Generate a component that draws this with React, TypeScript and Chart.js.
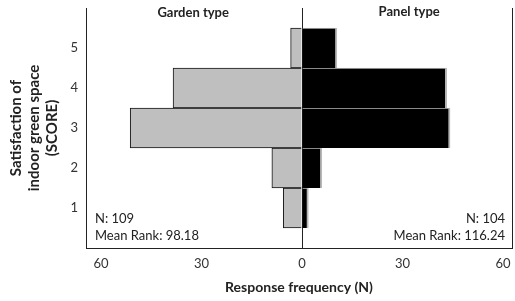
import React, { useEffect, useRef } from 'react';
import { Chart, registerables } from 'chart.js';

Chart.register(...registerables);

const scores = [1, 2, 3, 4, 5];
const gardenCounts = [5.6, 9, 51.3, 38.5, 3.4];
const panelCounts = [1.9, 5.9, 44.2, 43.2, 10.4];
const xTickValues = [-60, -30, 0, 30, 60];
const yTickLabels = ['1', '2', '3', '4', '5'];
const seriesNames = ['Garden type', 'Panel type'];
const gardenStats = ['N: 109', 'Mean Rank: 98.18'];
const panelStats = ['N: 104', 'Mean Rank: 116.24'];
const xTitle = 'Response frequency (N)';
const yTitle = ['Satisfaction of', 'indoor green space', '(SCORE)'];

const FONT = 'Lato';
const TEXT = '#222';

const annotate = {
  id: 'annotate',
  afterDatasetsDraw(chart: any) {
    const { ctx, chartArea, scales } = chart;
    const x = scales.x;
    ctx.save();
    ctx.fillStyle = TEXT;
    ctx.textBaseline = 'middle';
    ctx.font = `bold 13px ${FONT}`;
    ctx.textAlign = 'center';
    ctx.fillText(seriesNames[0], x.getPixelForValue(-32.5), chartArea.top + 5);
    ctx.fillText(seriesNames[1], x.getPixelForValue(32), chartArea.top + 4);
    ctx.font = `13px ${FONT}`;
    ctx.textAlign = 'left';
    ctx.fillText(gardenStats[0], chartArea.left + 9, chartArea.bottom - 29);
    ctx.fillText(gardenStats[1], chartArea.left + 9, chartArea.bottom - 12);
    ctx.textAlign = 'right';
    ctx.fillText(panelStats[0], chartArea.right - 7, chartArea.bottom - 29);
    ctx.fillText(panelStats[1], chartArea.right - 7, chartArea.bottom - 12);
    ctx.restore();
  },
};

export default function App() {
  const ref = useRef<HTMLCanvasElement | null>(null);

  useEffect(() => {
    document.body.style.margin = '0';
    const canvas = ref.current;
    if (!canvas) return;
    const chart = new Chart(canvas, {
      type: 'bar',
      data: {
        datasets: [
          {
            label: seriesNames[0],
            data: scores.map((s, i) => ({ x: -gardenCounts[i], y: s })),
            backgroundColor: '#bfbfbf',
            borderColor: '#151515',
            borderWidth: 1,
          },
          {
            label: seriesNames[1],
            data: scores.map((s, i) => ({ x: panelCounts[i], y: s })),
            backgroundColor: '#000',
            borderColor: '#b8b8b8',
            borderWidth: { top: 1, right: 2, bottom: 0, left: 0 },
            borderSkipped: false,
          },
        ],
      } as any,
      options: {
        indexAxis: 'y',
        animation: false,
        responsive: false,
        layout: { padding: { top: 8, right: 0, bottom: 0, left: 0 } },
        datasets: { bar: { barPercentage: 1, categoryPercentage: 1 } },
        plugins: { legend: { display: false }, tooltip: { enabled: false } },
        scales: {
          x: {
            type: 'linear',
            min: -64.5,
            max: 62.7,
            stacked: true,
            afterBuildTicks: (s: any) => {
              s.ticks = xTickValues.map((v) => ({ value: v }));
            },
            ticks: {
              callback: (v: any) => String(Math.abs(Number(v))),
              font: { family: FONT, size: 13 },
              color: '#333',
              padding: 8,
              maxRotation: 0,
              autoSkip: false,
            },
            grid: {
              drawTicks: false,
              color: (c: any) => (c.tick && c.tick.value === 0 ? '#222' : 'rgba(0,0,0,0)'),
            },
            border: { display: true, color: '#222' },
            title: {
              display: true,
              text: xTitle,
              color: TEXT,
              font: { family: FONT, size: 14, weight: 'bold' },
              padding: { top: 0, bottom: 5 },
            },
            afterFit: (s: any) => {
              s.height = 53;
              s.paddingLeft = 0;
              s.paddingRight = 0;
            },
          },
          y: {
            type: 'linear',
            min: 0,
            max: 6,
            offset: false,
            stacked: true,
            ticks: {
              stepSize: 1,
              autoSkip: false,
              callback: (v: any) => {
                const n = Number(v);
                return n >= 1 && n <= 5 ? yTickLabels[n - 1] : '';
              },
              font: { family: FONT, size: 13 },
              color: '#333',
              padding: 8,
            },
            grid: { display: false, drawTicks: false, offset: false },
            border: { display: true, color: '#222' },
            title: {
              display: true,
              text: yTitle,
              color: TEXT,
              font: { family: FONT, size: 15, weight: 'bold', lineHeight: 1.2 },
              padding: { top: 7, bottom: 0 },
            },
            afterFit: (s: any) => {
              s.width = 86;
              s.paddingTop = 0;
              s.paddingBottom = 0;
            },
          },
          y2: {
            type: 'linear',
            position: 'right',
            display: true,
            offset: false,
            grid: { display: false, drawTicks: false },
            ticks: { display: false },
            border: { display: true, color: '#222' },
            afterFit: (s: any) => {
              s.width = 3;
              s.paddingTop = 0;
              s.paddingBottom = 0;
            },
          },
        },
      } as any,
      plugins: [annotate],
    });
    return () => chart.destroy();
  }, []);

  return (
    <div style={{ width: 515, height: 301 }}>
      <canvas ref={ref} width={515} height={301} />
    </div>
  );
}
